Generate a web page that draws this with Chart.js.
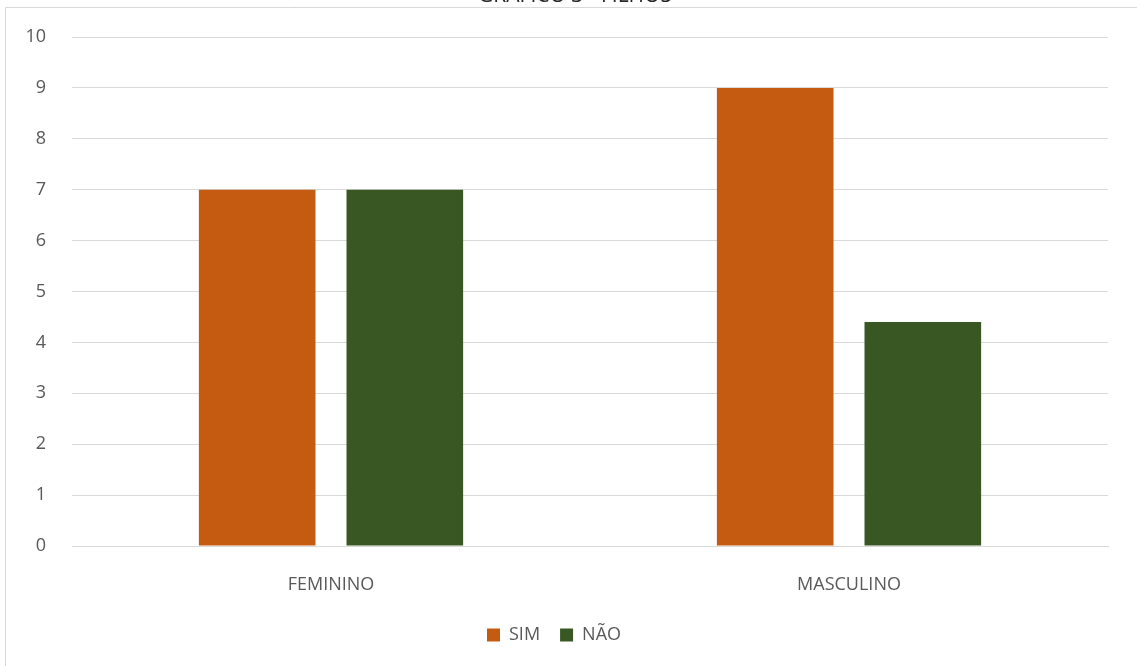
<!DOCTYPE html>
<html>
<head>
<meta charset="utf-8">
<script src="https://cdn.jsdelivr.net/npm/chart.js@4"></script>
<style>
  html, body { margin: 0; padding: 0; background: #fff; }
  #wrap { width: 1137px; height: 666px; position: relative; }
</style>
</head>
<body>
<div id="wrap"><canvas id="myChart" width="1137" height="666"></canvas></div>
<script>
const ctx = document.getElementById('myChart');

const labels = ['FEMININO', 'MASCULINO'];
const sim = [7, 9];
const nao = [7, 4.4];
const yTicks = [0, 1, 2, 3, 4, 5, 6, 7, 8, 9, 10];
const title = 'GRÁFICO 3 - FILHOS';

const FONT = "'Open Sans', sans-serif";

// frame line + title sitting just above it
const frame = {
  id: 'frame',
  beforeDraw(chart) {
    const c = chart.ctx;
    c.save();
    c.strokeStyle = '#d9d9d9';
    c.lineWidth = 1;
    c.beginPath();
    c.moveTo(5.5, 700);
    c.lineTo(5.5, 7.5);
    c.lineTo(1200, 7.5);
    c.stroke();
    c.fillStyle = '#262626';
    c.font = "21px " + FONT;
    c.textAlign = 'center';
    c.textBaseline = 'alphabetic';
    c.fillText(title, 575, 2);
    c.restore();
  }
};

const data = {
  labels: labels,
  datasets: [{
    label: 'SIM',
    data: sim,
    backgroundColor: '#c55a11',
    barPercentage: 0.79,
    categoryPercentage: 0.57
  }, {
    label: 'NÃO',
    data: nao,
    backgroundColor: '#385723',
    barPercentage: 0.79,
    categoryPercentage: 0.57
  }]
};

const config = {
  type: 'bar',
  data: data,
  plugins: [frame],
  options: {
    responsive: false,
    animation: false,
    layout: { padding: { left: 0, right: 29, top: 37, bottom: 12 } },
    plugins: {
      legend: {
        position: 'bottom',
        labels: {
          color: '#595959',
          font: { family: FONT, size: 18 },
          boxWidth: 13,
          boxHeight: 13,
          padding: 20
        }
      },
      tooltip: { enabled: false }
    },
    scales: {
      x: {
        grid: { display: false },
        border: { display: true, color: '#d9d9d9' },
        ticks: { color: '#595959', font: { family: FONT, size: 18 }, padding: 20 },
        afterFit(scale) { scale.height = 60; }
      },
      y: {
        min: 0,
        max: 10,
        afterBuildTicks(scale) { scale.ticks = yTicks.map(v => ({ value: v })); },
        grid: { color: '#d9d9d9', drawTicks: false },
        border: { display: false },
        ticks: { color: '#595959', font: { family: FONT, size: 18 }, padding: 26 },
        afterFit(scale) { scale.width = 72; }
      }
    }
  }
};

let chart = new Chart(ctx, config);
</script>
</body>
</html>
